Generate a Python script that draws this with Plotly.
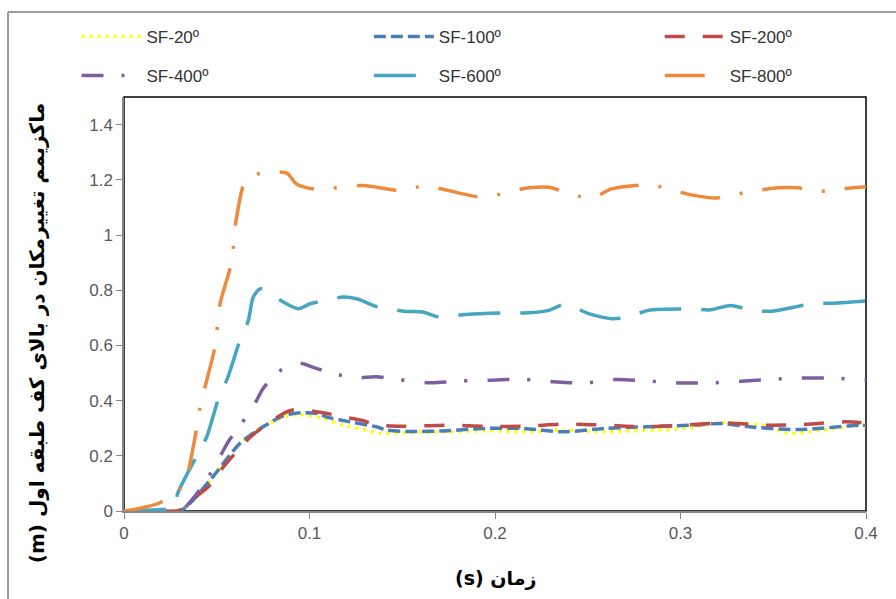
import plotly.graph_objects as go

# ---------------- data ----------------
t800 = [0, 0.019, 0.029, 0.032, 0.039, 0.041, 0.0437, 0.049, 0.0518, 0.058, 0.0604, 0.066, 0.074, 0.0877, 0.093,
        0.104, 0.1164, 0.129, 0.1506, 0.162, 0.1736, 0.194, 0.2067, 0.2183, 0.229, 0.2398, 0.252, 0.263, 0.2845,
        0.296, 0.3077, 0.3184, 0.329, 0.3407, 0.353, 0.363, 0.3746, 0.386, 0.4]
v800 = [0, 0.029, 0.076, 0.088, 0.293, 0.377, 0.45, 0.594, 0.751, 0.902, 1.052, 1.203, 1.224, 1.224, 1.185,
        1.165, 1.173, 1.179, 1.161, 1.179, 1.163, 1.137, 1.155, 1.171, 1.173, 1.151, 1.134, 1.167, 1.181,
        1.161, 1.143, 1.134, 1.146, 1.161, 1.171, 1.171, 1.158, 1.167, 1.175]

t600 = [0, 0.02, 0.027, 0.029, 0.039, 0.0446, 0.0518, 0.0554, 0.0625, 0.067, 0.0697, 0.0733, 0.076, 0.0859,
        0.094, 0.1003, 0.1075, 0.118, 0.1254, 0.136, 0.1398, 0.1506, 0.161, 0.170, 0.1844, 0.206, 0.2183, 0.229,
        0.238, 0.2505, 0.263, 0.272, 0.2826, 0.305, 0.3164, 0.3272, 0.338, 0.3495, 0.371, 0.3826, 0.4]
v600 = [0, 0.005, 0.01, 0.065, 0.197, 0.269, 0.426, 0.474, 0.618, 0.69, 0.775, 0.805, 0.80, 0.757,
        0.733, 0.751, 0.761, 0.775, 0.769, 0.741, 0.737, 0.724, 0.721, 0.703, 0.712, 0.718, 0.718, 0.727,
        0.749, 0.715, 0.697, 0.703, 0.727, 0.732, 0.729, 0.745, 0.727, 0.724, 0.751, 0.753, 0.761]

t400 = [0, 0.03, 0.038, 0.0455, 0.0527, 0.0562, 0.0634, 0.0706, 0.075, 0.0832, 0.094, 0.104, 0.1146, 0.1254,
        0.136, 0.1478, 0.165, 0.181, 0.1978, 0.2148, 0.2318, 0.2487, 0.2648, 0.2818, 0.2987, 0.3157, 0.3326,
        0.3495, 0.3656, 0.3826, 0.4]
v400 = [0, 0, 0.052, 0.124, 0.209, 0.251, 0.317, 0.39, 0.444, 0.504, 0.536, 0.516, 0.495, 0.483,
        0.486, 0.476, 0.465, 0.471, 0.474, 0.477, 0.468, 0.464, 0.476, 0.471, 0.464, 0.464, 0.470,
        0.477, 0.482, 0.481, 0.474]

t200 = [0, 0.02, 0.03, 0.039, 0.0464, 0.0536, 0.0607, 0.068, 0.075, 0.0859, 0.0903, 0.094, 0.1075, 0.118,
        0.129, 0.1335, 0.138, 0.152, 0.1747, 0.195, 0.2157, 0.2383, 0.259, 0.2816, 0.3022, 0.3238, 0.3454,
        0.366, 0.3886, 0.4]
v200 = [0, 0, 0.003, 0.052, 0.094, 0.16, 0.215, 0.267, 0.305, 0.353, 0.365, 0.368, 0.356, 0.341,
        0.327, 0.317, 0.311, 0.307, 0.311, 0.307, 0.307, 0.315, 0.311, 0.305, 0.311, 0.319, 0.311,
        0.313, 0.323, 0.318]

t100 = [0, 0.03, 0.0464, 0.0625, 0.075, 0.0859, 0.0958, 0.1046, 0.109, 0.1218, 0.136, 0.1417, 0.154, 0.1747,
        0.193, 0.2157, 0.2363, 0.259, 0.2816, 0.3063, 0.3227, 0.3372, 0.3639, 0.3968, 0.4]
v100 = [0, 0, 0.112, 0.245, 0.305, 0.345, 0.356, 0.353, 0.341, 0.323, 0.305, 0.293, 0.288, 0.291,
        0.299, 0.299, 0.287, 0.299, 0.305, 0.311, 0.317, 0.305, 0.295, 0.311, 0.31]

t20 = [0, 0.03, 0.0464, 0.0625, 0.075, 0.0859, 0.095, 0.1075, 0.118, 0.1308, 0.1375, 0.152, 0.1747, 0.195,
       0.2157, 0.236, 0.259, 0.2816, 0.3022, 0.3208, 0.344, 0.3578, 0.3757, 0.3968, 0.4]
v20 = [0, 0, 0.11, 0.245, 0.305, 0.34, 0.35, 0.335, 0.311, 0.293, 0.281, 0.284, 0.287, 0.291,
       0.287, 0.293, 0.287, 0.293, 0.299, 0.319, 0.311, 0.281, 0.293, 0.311, 0.31]

names = ["SF-20º", "SF-100º", "SF-200º", "SF-400º", "SF-600º", "SF-800º"]
xs = [t20, t100, t200, t400, t600, t800]
ys = [v20, v100, v200, v400, v600, v800]
colors = ["#FFFF00", "#4A7EBB", "#BE4B48", "#7D5FA0", "#46A5C0", "#EE8A3C"]
dashes = ["3px,5px", "12px,5px", "20px,18px", "22px,18px,3px,20px", "42px,20px", "40px,20px,3px,20px"]
legend_ids = ["legend", "legend2", "legend3", "legend4", "legend5", "legend6"]

fig = go.Figure()
for n, x, y, c, d, lg in zip(names, xs, ys, colors, dashes, legend_ids):
    fig.add_trace(go.Scatter(x=x, y=y, name=n, mode="lines", legend=lg,
                             line=dict(color=c, width=3.5, dash=d, shape="spline", smoothing=0.8)))

tickfont = dict(family="Liberation Sans, sans-serif", size=17, color="#595959")
legfont = dict(family="Liberation Sans, sans-serif", size=17, color="#333333")

# legend placement: 3 columns x 2 rows
col_x = [-0.064, 0.33, 0.722]
row_y = [1.145, 1.051]
leg_layout = {}
for i, lg in enumerate(legend_ids):
    leg_layout[lg] = dict(orientation="h", x=col_x[i % 3], y=row_y[i // 3], xanchor="left", yanchor="middle",
                          itemwidth=60, font=legfont, bgcolor="rgba(0,0,0,0)")

fig.update_layout(
    width=896, height=599,
    margin=dict(l=124, r=30, t=97, b=88),
    paper_bgcolor="white", plot_bgcolor="white",
    xaxis=dict(range=[0, 0.4], dtick=0.1, showgrid=False, zeroline=False, showline=True,
               linecolor="#868686", linewidth=1.5, ticks="outside", ticklen=6, tickcolor="#868686",
               tickfont=tickfont),
    yaxis=dict(range=[0, 1.5], tick0=0, dtick=0.2, showgrid=False, zeroline=False, showline=True,
               linecolor="#868686", linewidth=1.5, ticks="outside", ticklen=6, tickcolor="#868686",
               tickfont=tickfont),
    showlegend=True,
    **leg_layout,
)

# plot-area border (black)
fig.add_shape(type="rect", xref="paper", yref="paper", x0=0, y0=0, x1=1, y1=1,
              line=dict(color="black", width=1.5), layer="below")
# outer chart border (gray): left edge and top edge
fig.add_shape(type="line", xref="paper", yref="paper", x0=-0.1563, y0=-0.3, x1=-0.1563, y1=1.2055,
              line=dict(color="#9A9A9A", width=2), layer="above")
fig.add_shape(type="line", xref="paper", yref="paper", x0=-0.1563, y0=1.2055, x1=1.1, y1=1.2055,
              line=dict(color="#9A9A9A", width=2), layer="above")

fig.add_annotation(text="<b>(s) زمان</b>", xref="paper", yref="paper", x=0.5, y=-0.162,
                   showarrow=False, font=dict(family="DejaVu Sans, sans-serif", size=19, color="black"),
                   xanchor="center", yanchor="middle")
fig.add_annotation(text="<b>(m) ماکزیمم تغییرمکان در بالای کف طبقه اول</b>", xref="paper", yref="paper",
                   x=-0.117, y=0.43, textangle=-90, showarrow=False,
                   font=dict(family="DejaVu Sans, sans-serif", size=20, color="black"),
                   xanchor="center", yanchor="middle")

fig.write_html("out.html")
